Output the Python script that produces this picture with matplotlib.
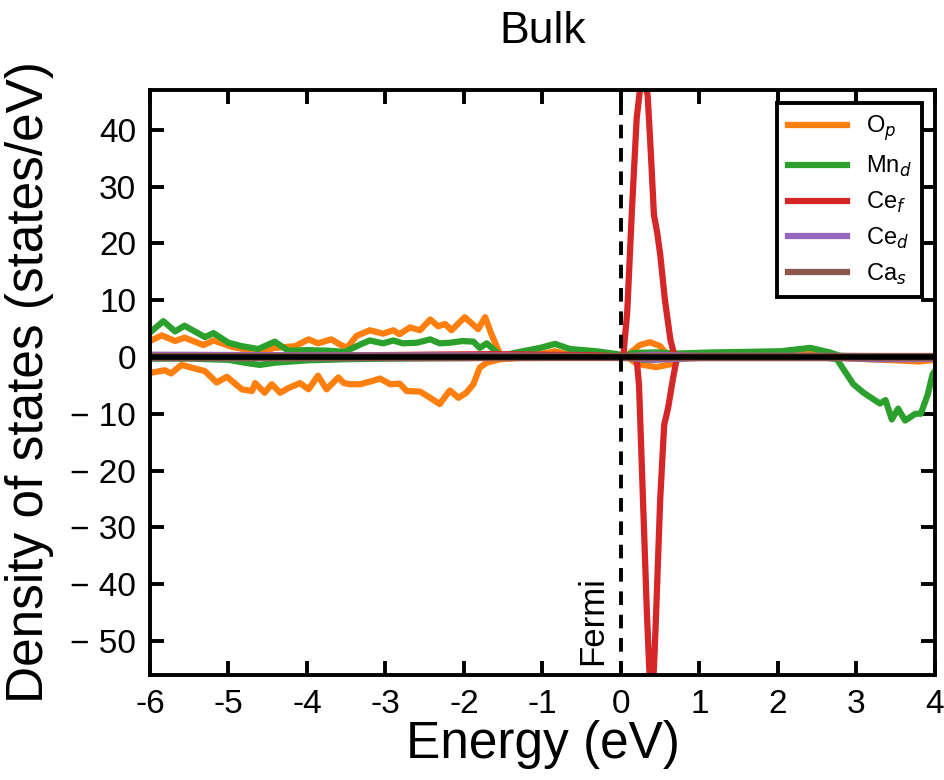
import matplotlib
matplotlib.use("Agg")
import matplotlib.pyplot as plt

plt.rcParams["font.family"] = ["Liberation Sans", "DejaVu Sans"]

# O_p
op_up_e = [-6.0, -5.85, -5.68, -5.56, -5.32, -5.19, -4.96, -4.62, -4.41, -4.15, -3.98, -3.86,
           -3.69, -3.58, -3.49, -3.37, -3.20, -3.03, -2.90, -2.82, -2.69, -2.56, -2.43, -2.33,
           -2.24, -2.16, -1.99, -1.82, -1.73, -1.65, -1.54, -1.45, -1.2, -1.0, -0.84, -0.7,
           -0.5, -0.2, 0.0, 0.1, 0.24, 0.37, 0.5, 0.6, 1.0, 1.5, 2.0, 2.3, 2.45, 2.6, 2.8,
           3.2, 4.0]
op_up_v = [2.8, 3.8, 2.8, 3.4, 2.1, 2.9, 1.8, 0.9, 1.6, 1.9, 3.1, 2.4,
           3.1, 2.2, 1.6, 3.7, 4.7, 4.1, 4.7, 4.0, 5.2, 4.7, 6.6, 5.4,
           5.8, 4.7, 7.0, 4.9, 7.0, 4.0, 0.5, 0.2, 0.5, 0.6, 1.0, 0.5,
           0.3, 0.2, 0.1, 0.5, 2.1, 2.6, 1.9, 0.2, 0.2, 0.3, 0.4, 0.6, 0.9, 0.5, 0.1,
           0.0, 0.0]
op_dn_e = [-6.0, -5.81, -5.73, -5.6, -5.30, -5.15, -5.02, -4.83, -4.70, -4.66, -4.54, -4.45,
           -4.34, -4.24, -4.09, -3.98, -3.86, -3.75, -3.60, -3.53, -3.45, -3.32, -3.16, -3.07,
           -2.94, -2.82, -2.73, -2.56, -2.43, -2.31, -2.18, -2.07, -1.97, -1.88, -1.80, -1.71,
           -1.54, -1.3, -0.5, 0.1, 0.20, 0.45, 0.66, 0.75, 1.5, 2.7, 3.0, 3.5, 3.8, 4.0]
op_dn_v = [-2.8, -2.35, -2.9, -1.4, -2.5, -4.5, -3.5, -5.7, -6.0, -4.6, -6.3, -4.8,
           -6.3, -5.5, -4.6, -5.7, -3.3, -5.7, -3.6, -4.6, -4.8, -4.8, -4.2, -3.8,
           -4.8, -4.7, -6.0, -6.1, -7.2, -8.3, -5.9, -7.2, -6.3, -4.8, -1.9, -1.0,
           -0.4, -0.2, -0.1, -0.2, -1.2, -1.8, -1.2, -0.2, -0.1, -0.1, -0.3, -0.6, -0.8, -0.5]

# Mn_d
mn_up_e = [-6.0, -5.83, -5.68, -5.56, -5.30, -5.19, -5.0, -4.83, -4.62, -4.41, -4.24, -4.0,
           -3.73, -3.52, -3.32, -3.2, -3.03, -2.90, -2.78, -2.60, -2.43, -2.31, -2.18, -2.02,
           -1.88, -1.80, -1.71, -1.58, -1.52, -1.29, -1.03, -0.84, -0.65, -0.31, -0.05, 0.05,
           0.15, 0.45, 0.71, 1.17, 1.6, 2.03, 2.41, 2.66, 2.79, 3.0, 4.0]
mn_up_v = [4.3, 6.3, 4.5, 5.5, 3.5, 4.2, 2.5, 1.9, 1.4, 2.7, 1.1, 1.2,
           1.1, 0.9, 2.2, 2.9, 2.4, 2.9, 2.4, 2.5, 3.1, 2.4, 2.5, 2.8,
           2.7, 1.6, 2.4, 0.8, 0.2, 0.9, 1.6, 2.3, 1.4, 1.0, 0.5, 0.2,
           0.7, 0.8, 0.6, 0.8, 0.9, 1.0, 1.6, 0.8, 0.2, 0.05, 0.0]
mn_dn_e = [-6.0, -5.5, -5.0, -4.8, -4.6, -4.4, -4.0, -3.5, -3.0, -2.0, -1.5, 0.0, 0.3, 0.6,
           0.8, 2.6, 2.75, 2.96, 3.09, 3.21, 3.30, 3.37, 3.45, 3.53, 3.62, 3.75, 3.82, 3.91,
           3.97, 4.0]
mn_dn_v = [-0.3, -0.3, -0.5, -1.0, -1.4, -1.0, -0.6, -0.4, -0.3, -0.2, -0.1, 0.0, -0.5, -0.3,
           -0.1, -0.1, -0.4, -4.8, -6.3, -7.4, -8.2, -7.6, -11.0, -9.1, -11.2, -10.0, -10.0, -6.5,
           -3.0, -2.5]

# Ce_f
cef_up_e = [-6.0, -4.0, -2.5, -1.6, -1.0, -0.3, 0.0, 0.03, 0.08, 0.14, 0.2, 0.25, 0.3, 0.34,
            0.38, 0.42, 0.46, 0.5, 0.56, 0.63, 0.68, 0.75, 4.0]
cef_up_v = [0.1, 0.2, 0.4, 0.5, 0.4, 0.3, 0.05, 0.2, 8, 26, 42, 48, 49, 46,
            36, 25, 22, 18, 10, 3, 0.3, 0.1, 0.1]
cef_dn_e = [-6.0, 0.0, 0.2, 0.23, 0.28, 0.33, 0.37, 0.41, 0.44, 0.50, 0.55, 0.6, 0.66, 0.71,
            0.8, 4.0]
cef_dn_v = [-0.1, 0.0, -0.3, -5, -25, -45, -58, -58, -48, -25, -12, -9, -4, -0.3,
            -0.1, -0.1]

# Ce_d
ced_up_e = [-6.0, -4.0, -2.0, 0.0, 0.4, 1.0, 2.5, 4.0]
ced_up_v = [0.4, 0.3, 0.3, 0.1, 0.4, 0.2, 0.2, 0.1]
ced_dn_e = [-6.0, -4.0, -2.0, 0.0, 0.4, 1.0, 2.8, 3.2, 3.6, 4.0]
ced_dn_v = [-0.2, -0.2, -0.2, -0.1, -0.5, -0.2, -0.2, -0.4, -0.4, -0.3]

# Ca_s
cas_up_e = [-6.0, 4.0]
cas_up_v = [0.1, 0.1]
cas_dn_e = [-6.0, 4.0]
cas_dn_v = [-0.1, -0.1]

series = [
    ("O$_p$", "#ff7f0e", op_up_e, op_up_v, op_dn_e, op_dn_v),
    ("Mn$_d$", "#2ca02c", mn_up_e, mn_up_v, mn_dn_e, mn_dn_v),
    ("Ce$_f$", "#d62728", cef_up_e, cef_up_v, cef_dn_e, cef_dn_v),
    ("Ce$_d$", "#9467bd", ced_up_e, ced_up_v, ced_dn_e, ced_dn_v),
    ("Ca$_s$", "#8c564b", cas_up_e, cas_up_v, cas_dn_e, cas_dn_v),
]

x_ticks = [-6, -5, -4, -3, -2, -1, 0, 1, 2, 3, 4]
x_labels = ["-6", "-5", "-4", "-3", "-2", "-1", "0", "1", "2", "3", "4"]
y_ticks = [-50, -40, -30, -20, -10, 0, 10, 20, 30, 40]
y_labels = ["\u2212 50", "\u2212 40", "\u2212 30", "\u2212 20", "\u2212 10",
            "0", "10", "20", "30", "40"]

fig = plt.figure(figsize=(9.45, 7.8), dpi=100)
ax = fig.add_axes([0.1587, 0.1346, 0.8307, 0.75])

for label, color, ue, uv, de, dv in series:
    ax.plot(ue, uv, color=color, lw=4.5, label=label, zorder=2)
    ax.plot(de, dv, color=color, lw=4.5, zorder=2)

ax.axhline(0, color="black", lw=4, zorder=3)
ax.axvline(0, color="black", lw=2.8, ls=(0, (3.5, 2.5)), zorder=3)
ax.text(-0.36, -54.2, "Fermi", rotation=90, ha="center", va="bottom", fontsize=25)

ax.set_xlim(-6, 4)
ax.set_ylim(-56, 47)
ax.set_xticks(x_ticks)
ax.set_xticklabels(x_labels)
ax.set_yticks(y_ticks)
ax.set_yticklabels(y_labels)
ax.tick_params(direction="in", length=10, width=2.8, labelsize=24, top=True, right=True, pad=10)
for sp in ax.spines.values():
    sp.set_linewidth(2.8)

ax.set_xlabel("Energy (eV)", fontsize=37, labelpad=0)
ax.set_ylabel("Density of states (states/eV)", fontsize=37, labelpad=12)
ax.set_title("Bulk", fontsize=32, pad=34)

leg = ax.legend(loc="upper right", fontsize=17, fancybox=False, framealpha=1,
                edgecolor="black", borderaxespad=0.55, handlelength=2.5,
                handletextpad=0.8, labelspacing=0.45, borderpad=0.45)
leg.get_frame().set_linewidth(2.8)

fig.savefig("out.png", dpi=100)
